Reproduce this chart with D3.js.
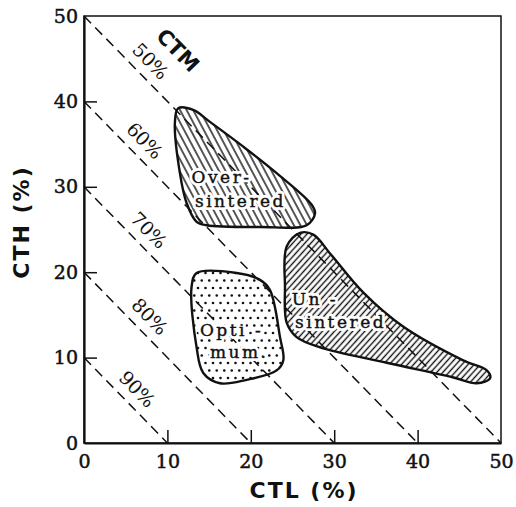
<!DOCTYPE html>
<html>
<head>
<meta charset="utf-8">
<script src="https://cdn.jsdelivr.net/npm/d3@7"></script>
<style>
  body { margin: 0; background: #fff; }
  svg { display: block; }
  .tick text { font-family: 'DejaVu Serif', serif; font-size: 19px; fill: #111; stroke: #111; stroke-width: 0.5px; }
  .region-halo { font-family: 'DejaVu Serif', serif; font-size: 17px; letter-spacing: 2.5px;
    fill: #fff; stroke: #fff; stroke-width: 6px; stroke-linejoin: round; }
  .region-label { font-family: 'DejaVu Serif', serif; font-size: 17px; letter-spacing: 2.5px;
    fill: #111; stroke: #111; stroke-width: 0.4px; }
  .ctm-label { font-family: 'DejaVu Serif', serif; font-size: 19px; fill: #111;
    stroke: #fff; stroke-width: 3px; paint-order: stroke; }
  .title { font-family: 'DejaVu Sans', sans-serif; font-weight: bold; fill: #111; }
</style>
</head>
<body>
<svg id="chart" width="516" height="507"></svg>
<script>
// axis ticks (%)
const xTicks = [0, 10, 20, 30, 40, 50];
const yTicks = [0, 10, 20, 30, 40, 50];

// iso-CTM lines: CTM = 100 - CTL - CTH
const ctmLevels = [50, 60, 70, 80, 90];
const ctmLabelCTL = [6.6, 5.9, 6.4, 6.5, 5.0];

// region outlines [CTL, CTH]
const overSintered = [[11.3, 39.2], [10.9, 37.5], [11.5, 31.6], [12.3, 28.1], [13.5, 25.9], [14.7, 25.5],
  [21.1, 25.3], [26.7, 25.5], [27.7, 26.9], [27.3, 27.9], [23.1, 31.6], [19.1, 34.7], [15.1, 37.6], [13.1, 39.0]];
const unSintered = [[25.9, 24.6], [24.3, 23.0], [24.1, 18.3], [24.3, 14.1], [25.5, 12.4], [28.3, 11.2],
  [36.3, 9.4], [44.2, 7.7], [47.1, 7.0], [48.7, 7.6], [48.3, 8.5], [45.4, 9.7], [38.3, 13.6], [33.5, 17.6],
  [29.5, 22.2], [27.5, 24.4]];
const optimum = [[13.5, 19.9], [18.3, 19.9], [21.1, 19.1], [22.3, 17.9], [23.5, 12.4], [23.9, 9.7], [23.1, 8.5],
  [19.5, 7.4], [16.3, 7.0], [14.3, 8.2], [13.5, 11.2], [12.9, 18.3]];

// region labels: text, CTL, CTH (anchor of each line)
const regionLabels = [
  ['Over-', 12.9, 30.4], ['sintered', 13.3, 27.6],
  ['Un -', 24.9, 16.2], ['sintered', 25.3, 13.5],
  ['Opti -', 13.9, 12.5], ['mum.', 15.1, 9.9]
];

const margin = { top: 16, right: 15, bottom: 64, left: 84 };
const width = 516 - margin.left - margin.right;
const height = 507 - margin.top - margin.bottom;

const svg = d3.select('#chart');
const x = d3.scaleLinear().domain([0, 50]).range([margin.left, margin.left + width]);
const y = d3.scaleLinear().domain([0, 50]).range([margin.top + height, margin.top]);

// patterns
const defs = svg.append('defs');
const hatch = (id, spacing, angle, sw) => {
  const p = defs.append('pattern')
    .attr('id', id)
    .attr('patternUnits', 'userSpaceOnUse')
    .attr('width', spacing).attr('height', 20)
    .attr('patternTransform', `rotate(${angle})`);
  p.append('line')
    .attr('x1', spacing / 2).attr('x2', spacing / 2)
    .attr('y1', 0).attr('y2', 20)
    .attr('stroke', '#111').attr('stroke-width', sw);
};
hatch('hatch-over', 5.8, -28, 1.4);
hatch('hatch-un', 4.5, 42, 1.4);

const dots = defs.append('pattern')
  .attr('id', 'dots')
  .attr('patternUnits', 'userSpaceOnUse')
  .attr('width', 15).attr('height', 15);
[[3, 3], [10.5, 3], [6.75, 10.5], [14.25, 10.5], [-0.75, 10.5]].forEach(d => {
  dots.append('circle').attr('cx', d[0]).attr('cy', d[1]).attr('r', 1.3).attr('fill', '#111');
});

// regions
const outline = d3.line()
  .x(d => x(d[0]))
  .y(d => y(d[1]))
  .curve(d3.curveCatmullRomClosed.alpha(0.5));

[[overSintered, 'url(#hatch-over)'], [unSintered, 'url(#hatch-un)'], [optimum, 'url(#dots)']]
  .forEach(([pts, fill]) => {
    svg.append('path')
      .datum(pts)
      .attr('d', outline)
      .attr('fill', fill)
      .attr('stroke', '#111')
      .attr('stroke-width', 2.4)
      .attr('stroke-linejoin', 'round');
  });

// iso-CTM dashed lines
ctmLevels.forEach(c => {
  const s = 100 - c;
  svg.append('line')
    .attr('x1', x(0)).attr('y1', y(s))
    .attr('x2', x(s)).attr('y2', y(0))
    .attr('stroke', '#111')
    .attr('stroke-width', 1.5)
    .attr('stroke-dasharray', '10,6');
});

// line angle in pixels
const ang = Math.atan2(y(0) - y(50), x(50) - x(0)) * 180 / Math.PI;
const rad = ang * Math.PI / 180;
const off = 16;
ctmLevels.forEach((c, i) => {
  const s = 100 - c;
  const cx = x(ctmLabelCTL[i]);
  const cy = y(s - ctmLabelCTL[i]);
  const px = cx + off * Math.sin(rad);
  const py = cy - off * Math.cos(rad);
  svg.append('text')
    .attr('class', 'ctm-label')
    .attr('transform', `translate(${px},${py}) rotate(${ang})`)
    .attr('text-anchor', 'middle')
    .attr('dy', '0.35em')
    .text(`${c}%`);
});

// CTM heading
svg.append('text')
  .attr('class', 'title')
  .attr('transform', `translate(178,50) rotate(${ang})`)
  .attr('text-anchor', 'middle')
  .attr('dy', '0.36em')
  .style('font-size', '21px')
  .text('CTM');

// region labels (white halo underneath, then the text)
['region-halo', 'region-label'].forEach(cls => {
  regionLabels.forEach(d => {
    svg.append('text')
      .attr('class', cls)
      .attr('x', x(d[1]))
      .attr('y', y(d[2]))
      .text(d[0]);
  });
});

// frame
svg.append('rect')
  .attr('x', margin.left).attr('y', margin.top)
  .attr('width', width).attr('height', height)
  .attr('fill', 'none').attr('stroke', '#111').attr('stroke-width', 1.5);

// axes
const gx = svg.append('g')
  .attr('transform', `translate(0,${margin.top + height})`)
  .call(d3.axisBottom(x).tickValues(xTicks).tickSize(-13).tickPadding(12).tickSizeOuter(0));
const gy = svg.append('g')
  .attr('transform', `translate(${margin.left},0)`)
  .call(d3.axisLeft(y).tickValues(yTicks).tickSize(-13).tickPadding(6).tickSizeOuter(0));
[gx, gy].forEach(g => {
  g.select('.domain').attr('stroke', '#111').attr('stroke-width', 2.2);
  g.selectAll('.tick line').attr('stroke', '#111').attr('stroke-width', 1.5);
  g.selectAll('.tick').filter(d => d === 0 || d === 50).select('line').remove();
});

// axis titles
svg.append('text')
  .attr('class', 'title')
  .attr('x', 304).attr('y', 498)
  .attr('text-anchor', 'middle')
  .style('font-size', '22px')
  .style('letter-spacing', '2px')
  .text('CTL (%)');

svg.append('text')
  .attr('class', 'title')
  .attr('transform', 'translate(29,222) rotate(-90)')
  .attr('text-anchor', 'middle')
  .style('font-size', '22px')
  .style('letter-spacing', '2px')
  .text('CTH (%)');
</script>
</body>
</html>
